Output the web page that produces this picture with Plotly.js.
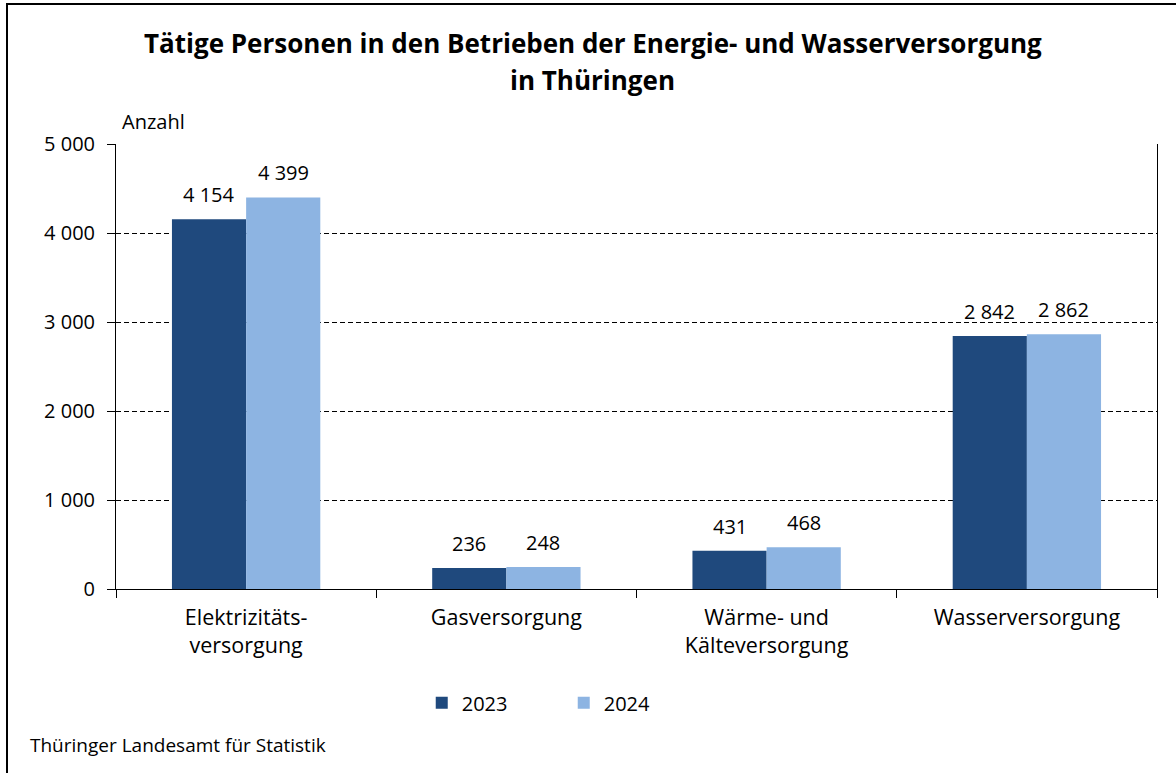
<!DOCTYPE html>
<html>
<head>
<meta charset="utf-8">
<script src="https://cdn.plot.ly/plotly-3.0.1.min.js"></script>
<style>
html, body { margin: 0; padding: 0; background: #ffffff; }
#chart { width: 1176px; height: 773px; }
</style>
</head>
<body>
<div id="chart"></div>
<script>
const categories = ["Elektrizitäts-<br>versorgung", "Gasversorgung", "Wärme- und<br>Kälteversorgung", "Wasserversorgung"];
const values2023 = [4154, 236, 431, 2842];
const values2024 = [4399, 248, 468, 2862];
const seriesNames = ["2023", "2024"];
const yTickVals = [0, 1000, 2000, 3000, 4000, 5000];
const titleLines = ["Tätige Personen in den Betrieben der Energie- und Wasserversorgung", "in Thüringen"];
const yUnit = "Anzahl";
const sourceText = "Thüringer Landesamt für Statistik";

const FONT = "'Open Sans', 'Noto Sans', sans-serif";
const labelFont = { family: FONT, size: 20, color: "#000000" };
const colors = ["#1F497D", "#8DB4E2"];

const BARGAP = 0.43;
const PLOT_W = 1176 - 116 - 19;
const barOffsetPx = (1 - BARGAP) * (PLOT_W / categories.length) / 4;

function fmt(v) {
  return String(v).replace(/\B(?=(\d{3})+(?!\d))/g, " ");
}

const seriesValues = [values2023, values2024];
const traces = seriesValues.map((vals, i) => ({
  type: "bar", name: seriesNames[i], x: categories, y: vals,
  marker: { color: colors[i] }, hoverinfo: "skip"
}));

const valueAnnotations = [];
seriesValues.forEach((vals, s) => {
  vals.forEach((v, k) => {
    valueAnnotations.push({
      x: categories[k], y: v, xref: "x", yref: "y",
      text: fmt(v),
      xshift: (s === 0 ? -1 : 1) * barOffsetPx, yshift: 9,
      xanchor: "center", yanchor: "bottom", showarrow: false, font: labelFont
    });
  });
});

const titleFont = { family: FONT, size: 26, color: "#000000" };

const layout = {
  width: 1176, height: 773,
  margin: { l: 116, r: 19, t: 144, b: 184 },
  paper_bgcolor: "#ffffff", plot_bgcolor: "#ffffff",
  separators: ", ",
  font: { family: FONT, size: 20, color: "#000000" },
  barmode: "group", bargap: BARGAP, bargroupgap: 0,
  xaxis: {
    type: "category", showline: true, linecolor: "#000000", linewidth: 1,
    ticks: "outside", tickson: "boundaries", ticklen: 8, tickcolor: "#000000",
    ticklabelstandoff: 9,
    tickfont: { family: FONT, size: 21.5, color: "#000000" },
    showgrid: false, zeroline: false, fixedrange: true
  },
  yaxis: {
    range: [0, 5000], tickvals: yTickVals, tickformat: ",",
    showline: true, linecolor: "#000000", linewidth: 1, mirror: true,
    ticks: "outside", ticklen: 8, tickcolor: "#000000",
    ticklabelstandoff: 8,
    showgrid: true, gridcolor: "#000000", gridwidth: 1, griddash: "5px,3px",
    zeroline: false, tickfont: labelFont, fixedrange: true
  },
  legend: {
    orientation: "h", x: 0.2937, xanchor: "left", y: -0.212, yanchor: "top",
    font: labelFont, entrywidth: 97, entrywidthmode: "pixels",
    traceorder: "normal"
  },
  annotations: [
    { text: "<b>" + titleLines[0] + "</b>", xref: "paper", yref: "paper", x: 0.458, y: 1, yshift: 101,
      xanchor: "center", yanchor: "middle", showarrow: false, font: titleFont },
    { text: "<b>" + titleLines[1] + "</b>", xref: "paper", yref: "paper", x: 0.458, y: 1, yshift: 64,
      xanchor: "center", yanchor: "middle", showarrow: false, font: titleFont },
    { text: yUnit, xref: "paper", yref: "paper", x: 0, y: 1, xshift: 4, yanchor: "bottom", xanchor: "left",
      yshift: 7, showarrow: false, font: labelFont },
    { text: sourceText, xref: "paper", yref: "paper", x: 0, y: 0, xanchor: "left", yanchor: "middle",
      xshift: -88, yshift: -156, showarrow: false, font: { family: FONT, size: 19, color: "#000000" } }
  ].concat(valueAnnotations),
  shapes: [
    { type: "rect", xref: "paper", yref: "paper", xsizemode: "pixel", ysizemode: "pixel",
      xanchor: 0, yanchor: 1, x0: -109, x1: 1200, y0: -800, y1: 140,
      line: { color: "#000000", width: 2 }, fillcolor: "rgba(0,0,0,0)", layer: "above" }
  ],
  showlegend: true
};

Plotly.newPlot("chart", traces, layout, { displayModeBar: false, staticPlot: true });
</script>
</body>
</html>
